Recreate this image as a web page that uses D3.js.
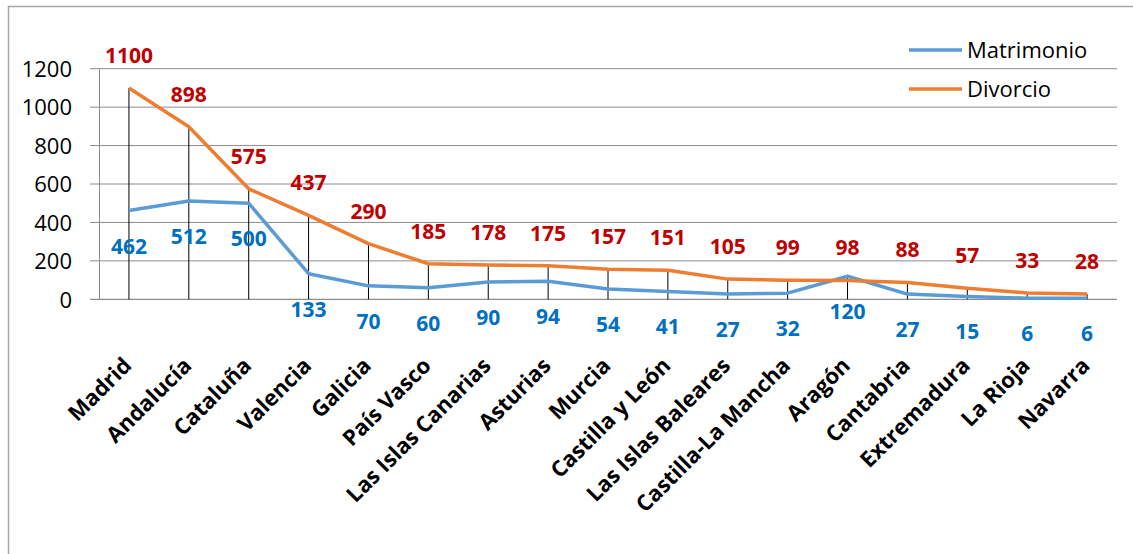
<!DOCTYPE html>
<html><head><meta charset="utf-8">
<script src="https://cdn.jsdelivr.net/npm/d3@7/dist/d3.min.js"></script>
<style>body{margin:0;background:#fff;}svg{display:block;}</style>
</head><body>
<svg id="c" width="1133" height="554"></svg>
<script>
const categories = ["Madrid","Andalucía","Cataluña","Valencia","Galicia","País Vasco","Las Islas Canarias","Asturias","Murcia","Castilla y León","Las Islas Baleares","Castilla-La Mancha","Aragón","Cantabria","Extremadura","La Rioja","Navarra"];
const matrimonio = [462,512,500,133,70,60,90,94,54,41,27,32,120,27,15,6,6];
const divorcio = [1100,898,575,437,290,185,178,175,157,151,105,99,98,88,57,33,28];
const yTicks = [0,200,400,600,800,1000,1200];
const seriesNames = ["Matrimonio","Divorcio"];

const svg = d3.select("#c");
const font = "'Open Sans', 'Liberation Sans', sans-serif";
const L = 99, R = 1117, T = 68.7, B = 299.3;

// outer border
svg.append("path").attr("d","M8.5,554 V6.5 H1133").attr("fill","none").attr("stroke","#a6a6a6").attr("stroke-width",1.5);

const x = d3.scaleBand().domain(categories).range([L,R]);
const y = d3.scaleLinear().domain([0,1200]).range([B,T]);
const cx = c => x(c) + x.bandwidth()/2;

// gridlines
svg.append("g").selectAll("line").data(yTicks.filter(v=>v>0)).join("line")
  .attr("x1",L-9).attr("x2",R).attr("y1",d=>y(d)).attr("y2",d=>y(d))
  .attr("stroke","#8c8c8c").attr("stroke-width",1);

// y axis
const ya = svg.append("g").attr("transform",`translate(${L},0)`)
  .call(d3.axisLeft(y).tickValues(yTicks).tickFormat(d3.format("d")).tickSize(0).tickPadding(27));
ya.select(".domain").attr("stroke","#8c8c8c");
ya.selectAll("text").attr("font-family",font).attr("font-size",22).attr("fill","#000").attr("dy","0.35em");

// x axis line
svg.append("line").attr("x1",L-9).attr("x2",R).attr("y1",B).attr("y2",B).attr("stroke","#8c8c8c").attr("stroke-width",1.2);

// drop lines
svg.append("g").selectAll("line").data(categories).join("line")
  .attr("x1",d=>cx(d)).attr("x2",d=>cx(d))
  .attr("y1",(d,i)=>y(Math.max(matrimonio[i],divorcio[i]))).attr("y2",B)
  .attr("stroke","#000").attr("stroke-width",1);

const line = d3.line().x((d,i)=>cx(categories[i])).y(d=>y(d));
svg.append("path").datum(matrimonio).attr("d",line).attr("fill","none").attr("stroke","#5b9bd5").attr("stroke-width",3.5).attr("stroke-linejoin","round");
svg.append("path").datum(divorcio).attr("d",line).attr("fill","none").attr("stroke","#ed7d31").attr("stroke-width",3.5).attr("stroke-linejoin","round");

// labels
svg.append("g").selectAll("text").data(divorcio).join("text")
  .attr("x",(d,i)=>cx(categories[i])).attr("y",d=>y(d)-25)
  .attr("text-anchor","middle").attr("font-family",font).attr("font-weight","bold").attr("font-size",21)
  .attr("fill","#c00000").text(d=>d);
svg.append("g").selectAll("text").data(matrimonio).join("text")
  .attr("x",(d,i)=>cx(categories[i])).attr("y",d=>y(d)+43)
  .attr("text-anchor","middle").attr("font-family",font).attr("font-weight","bold").attr("font-size",21)
  .attr("fill","#0070c0").text(d=>d);

// category labels
svg.append("g").selectAll("text").data(categories).join("text")
  .attr("transform",d=>`translate(${cx(d)+4},${367}) rotate(-45)`)
  .attr("text-anchor","end").attr("font-family",font).attr("font-weight","bold").attr("font-size",22)
  .attr("fill","#000").text(d=>d);

// legend
const lg = svg.append("g");
const lcol = ["#5b9bd5","#ed7d31"];
const ly = [50,89];
seriesNames.forEach((n,i)=>{
  lg.append("line").attr("x1",909).attr("x2",962).attr("y1",ly[i]).attr("y2",ly[i]).attr("stroke",lcol[i]).attr("stroke-width",3.5);
  lg.append("text").attr("x",967).attr("y",ly[i]).attr("dy","0.35em").attr("font-family",font).attr("font-size",22).attr("fill","#000").text(n);
});
</script>
</body></html>
